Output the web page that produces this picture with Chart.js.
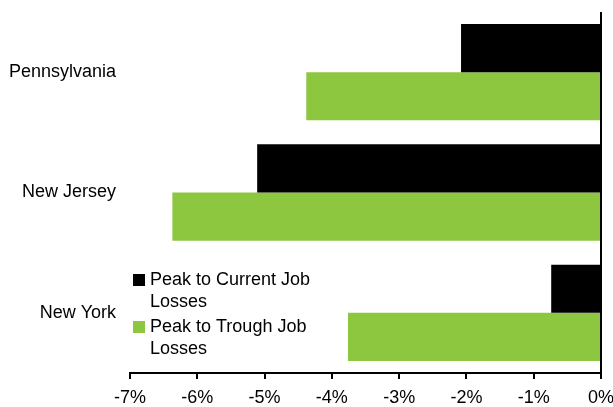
<!DOCTYPE html>
<html lang="en">
<head>
  <meta charset="UTF-8">
  <title>Job Losses by State</title>
  <script src="https://cdn.jsdelivr.net/npm/chart.js"></script>
  <style>
    html, body {
      margin: 0;
      padding: 0;
      background: #fff;
    }
    #wrap {
      width: 613px;
      height: 407px;
    }
  </style>
</head>
<body>
  <div id="wrap"><canvas id="chart"></canvas></div>

  <script>
    const states = ['Pennsylvania', 'New Jersey', 'New York'];
    const peakToCurrent = [-2.08, -5.11, -0.74];
    const peakToTrough = [-4.38, -6.37, -3.76];
    const currentLabel = ['Peak to Current Job', 'Losses'];
    const troughLabel = ['Peak to Trough Job', 'Losses'];

    const FONT = "'Liberation Sans', Arial, sans-serif";

    // legend drawn inside the plot, lower left
    const insideLegend = {
      id: 'insideLegend',
      afterDraw(chart) {
        const ctx = chart.ctx;
        const area = chart.chartArea;
        const x = area.left + 3;
        let top = area.bottom - 99;
        ctx.save();
        ctx.font = '18px ' + FONT;
        ctx.textBaseline = 'middle';
        ctx.textAlign = 'left';
        chart.data.datasets.forEach(ds => {
          ctx.fillStyle = ds.backgroundColor;
          ctx.fillRect(x, top, 12, 12);
          ctx.fillStyle = '#000';
          ds.label.forEach((line, i) => {
            ctx.fillText(line, x + 17, top + 6 + i * 22);
          });
          top += 47;
        });
        ctx.restore();
      }
    };

    const ctx = document.getElementById('chart').getContext('2d');
    new Chart(ctx, {
      type: 'bar',
      data: {
        labels: states,
        datasets: [
          {
            label: currentLabel,
            data: peakToCurrent,
            backgroundColor: '#000000',
            categoryPercentage: 0.8,
            barPercentage: 1.0
          },
          {
            label: troughLabel,
            data: peakToTrough,
            backgroundColor: '#8dc63f',
            categoryPercentage: 0.8,
            barPercentage: 1.0
          }
        ]
      },
      options: {
        indexAxis: 'y',
        responsive: true,
        maintainAspectRatio: false,
        animation: false,
        layout: {
          padding: { top: 12, right: 12, bottom: 0, left: 0 }
        },
        plugins: {
          legend: { display: false },
          tooltip: { enabled: false }
        },
        scales: {
          x: {
            min: -7,
            max: 0,
            ticks: {
              stepSize: 1,
              padding: 8,
              color: '#000',
              font: { family: FONT, size: 18 },
              callback: v => v + '%'
            },
            grid: {
              color: c => (c.tick && c.tick.value === 0) ? '#000' : 'rgba(0,0,0,0)',
              lineWidth: 2,
              tickLength: 6,
              tickColor: '#000'
            },
            border: { display: true, color: '#000', width: 2 },
            afterFit(scale) {
              scale.paddingRight = 0;
              scale.height = 34;
            }
          },
          y: {
            position: 'left',
            grid: { display: false, drawTicks: false },
            border: { display: false },
            ticks: {
              padding: 14,
              color: '#000',
              font: { family: FONT, size: 18 }
            },
            afterFit(scale) {
              scale.width = 130;
              scale.paddingTop = 0;
              scale.paddingBottom = 0;
            }
          }
        }
      },
      plugins: [insideLegend]
    });
  </script>
</body>
</html>
